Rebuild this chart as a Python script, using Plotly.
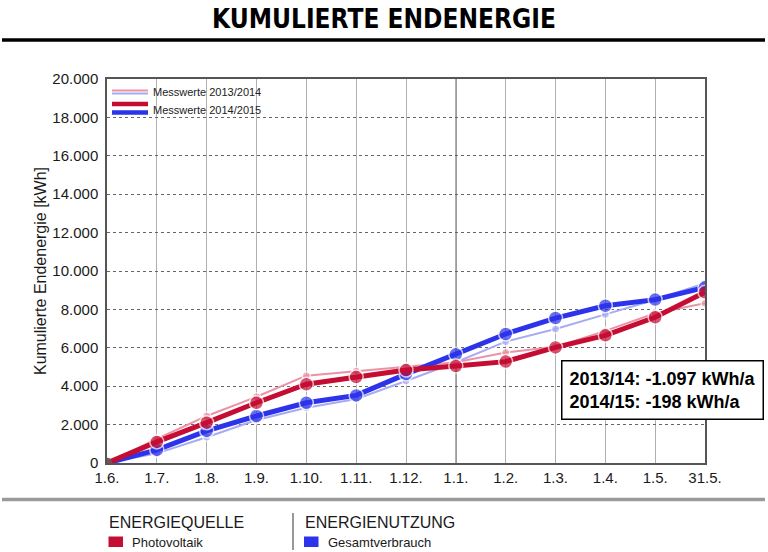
import plotly.graph_objects as go

# ---- data ----
categories = ["1.6.", "1.7.", "1.8.", "1.9.", "1.10.", "1.11.", "1.12.",
              "1.1.", "1.2.", "1.3.", "1.4.", "1.5.", "31.5."]
pv_2014_15 = [0, 1100, 2100, 3140, 4100, 4480, 4840, 5050, 5280, 6020, 6650, 7590, 8890]
use_2014_15 = [0, 680, 1670, 2450, 3140, 3520, 4630, 5660, 6720, 7550, 8190, 8510, 9150]
pv_2013_14 = [0, 1250, 2450, 3450, 4550, 4790, 5000, 5250, 5750, 6050, 6880, 7800, 8320]
use_2013_14 = [0, 500, 1340, 2240, 2880, 3330, 4270, 5250, 6320, 6980, 7740, 8500, 9360]
y_ticks = [0, 2000, 4000, 6000, 8000, 10000, 12000, 14000, 16000, 18000, 20000]
info_lines = ["2013/14: -1.097 kWh/a", "2014/15: -198 kWh/a"]
legend_labels = ["Messwerte 2013/2014", "Messwerte 2014/2015"]

xpos = list(range(len(categories)))

RED = "#c50c33"
BLUE = "#2c33ea"
PINK = "#ec92a6"
LBLUE = "#a6abf3"
FONT = "Liberation Sans, Arial, sans-serif"
NARROW = "DejaVu Sans Condensed, Liberation Sans Narrow, Arial Narrow, sans-serif"

# plot area in pixels
L, R, T, B = 107, 705, 79, 463


def px(x):
    return (x - L) / (R - L)


def py(y):
    return (B - y) / (B - T)


def series(vals, color, lw, msize):
    n = len(vals)
    mcol = ["#666666"] + [color] * (n - 1)
    msz = [9] + [msize] * (n - 1)
    mline = ["#666666"] + ["white"] * (n - 1)
    return go.Scatter(
        x=xpos, y=vals, mode="lines+markers",
        line=dict(color=color, width=lw),
        marker=dict(color=mcol, size=msz, line=dict(color=mline, width=1.5)),
        showlegend=False, hoverinfo="skip",
    )


fig = go.Figure()
fig.add_trace(series(use_2013_14, LBLUE, 2, 8))
fig.add_trace(series(pv_2013_14, PINK, 2, 8))
fig.add_trace(series(use_2014_15, BLUE, 5, 14))
fig.add_trace(series(pv_2014_15, RED, 5, 14))

shapes = []
# darker vertical line at 1.1.
shapes.append(dict(type="line", xref="x", yref="paper", x0=7, x1=7, y0=0, y1=1,
                   line=dict(color="#555555", width=1.5), layer="between"))
# white legend box
shapes.append(dict(type="rect", xref="paper", yref="paper",
                   x0=px(108.5), x1=px(272), y0=py(126), y1=py(81),
                   fillcolor="white", line=dict(width=0), layer="between"))
# legend line samples
for (yy, col, w) in [(90.5, PINK, 2), (93.5, LBLUE, 2), (104, RED, 4.5), (112.5, BLUE, 4.5)]:
    shapes.append(dict(type="line", xref="paper", yref="paper",
                       x0=px(112), x1=px(148), y0=py(yy), y1=py(yy),
                       line=dict(color=col, width=w), layer="above"))
# title rule
shapes.append(dict(type="line", xref="paper", yref="paper",
                   x0=px(2), x1=px(765), y0=py(40), y1=py(40),
                   line=dict(color="black", width=3.5)))
# bottom gray rule
shapes.append(dict(type="line", xref="paper", yref="paper",
                   x0=px(2), x1=px(765), y0=py(499.5), y1=py(499.5),
                   line=dict(color="#9a9a9a", width=3.5)))
# separator in bottom legend
shapes.append(dict(type="line", xref="paper", yref="paper",
                   x0=px(293), x1=px(293), y0=py(513), y1=py(550),
                   line=dict(color="#555555", width=1.2)))
# color squares
for (x0, col) in [(108.5, RED), (304, BLUE)]:
    shapes.append(dict(type="rect", xref="paper", yref="paper",
                       x0=px(x0), x1=px(x0 + 14.5), y0=py(547), y1=py(536.5),
                       fillcolor=col, line=dict(width=0)))

annotations = []
for (yy, txt) in [(91.5, legend_labels[0]), (109.5, legend_labels[1])]:
    annotations.append(dict(xref="paper", yref="paper", x=px(151), y=py(yy),
                            xanchor="left", yanchor="middle", showarrow=False,
                            text=txt, font=dict(family=FONT, size=11, color="#222")))
annotations.append(dict(xref="paper", yref="paper", x=px(560.5), y=py(359.5),
                        xanchor="left", yanchor="top", showarrow=False, align="left",
                        text="<br>".join(f"<b>{t}</b>" for t in info_lines),
                        font=dict(family=FONT, size=18, color="black"),
                        bgcolor="white", bordercolor="black", borderwidth=1.5, borderpad=7))
for (x, txt, size, yy) in [(107, "ENERGIEQUELLE", 16, 522), (303, "ENERGIENUTZUNG", 16, 522),
                           (129.5, "Photovoltaik", 13, 542), (325.5, "Gesamtverbrauch", 13, 542)]:
    annotations.append(dict(xref="paper", yref="paper", x=px(x), y=py(yy),
                            xanchor="left", yanchor="middle", showarrow=False,
                            text=txt, font=dict(family=FONT, size=size, color="#1a1a1a")))

fig.update_layout(
    width=768, height=552,
    margin=dict(l=L, r=768 - R, t=T, b=552 - B),
    paper_bgcolor="white", plot_bgcolor="white",
    separators=",.",
    title=dict(text="<b>KUMULIERTE ENDENERGIE</b>", x=0.5, xanchor="center",
               y=1 - 19 / 552, yanchor="middle",
               font=dict(family=NARROW, size=26, color="black")),
    xaxis=dict(range=[0, 12], tickvals=xpos, ticktext=categories,
               showgrid=True, gridcolor="#b0b0b0", gridwidth=1.2,
               showline=True, mirror=True, linecolor="#555555", linewidth=1.5,
               zeroline=False, ticks="", tickfont=dict(family=FONT, size=15, color="#1a1a1a"),
               fixedrange=True),
    yaxis=dict(range=[0, 20000], tickvals=y_ticks, tickformat=",d",
               showgrid=True, gridcolor="#666666", griddash="dot", gridwidth=1,
               showline=True, mirror=True, linecolor="#555555", linewidth=1.5,
               zeroline=False, ticks="", ticklabelstandoff=4,
               tickfont=dict(family=FONT, size=15, color="#1a1a1a"),
               title=dict(text="Kumulierte Endenergie [kWh]", standoff=2,
                          font=dict(family=FONT, size=16, color="#1a1a1a")),
               fixedrange=True),
    shapes=shapes, annotations=annotations,
)

fig.write_html("out.html", config={"displayModeBar": False},
               post_script="document.body.style.margin='0';document.body.style.overflow='hidden';")
